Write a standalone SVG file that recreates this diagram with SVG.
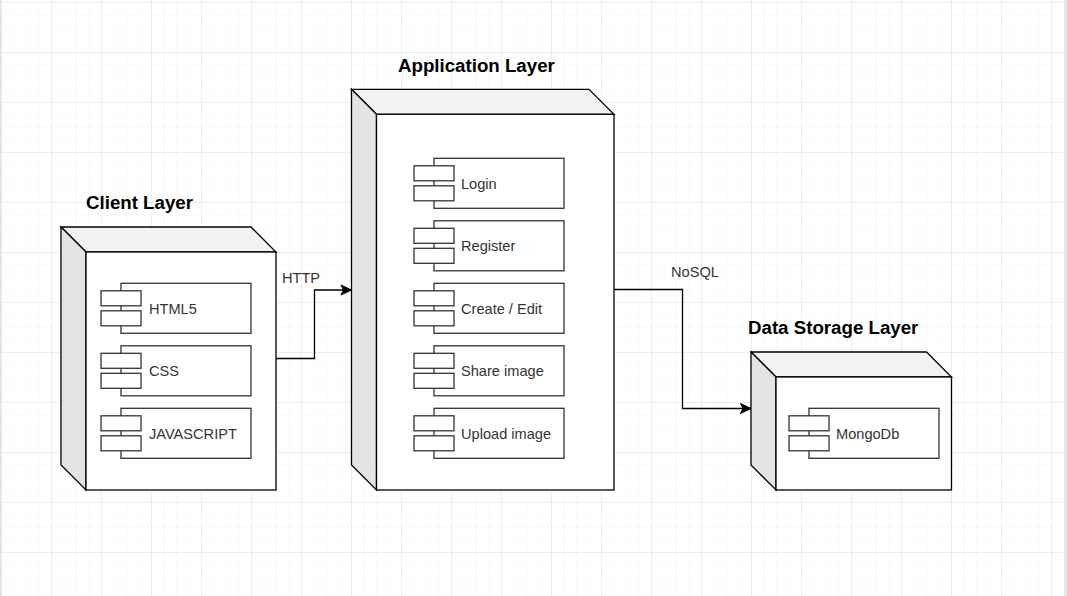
<svg xmlns="http://www.w3.org/2000/svg" width="1067" height="596" viewBox="0 0 1067 596">
  <style>
    .face{fill:#ffffff;stroke:#000000;stroke-width:1.3;stroke-linejoin:miter}
    .top{fill:#f2f2f2;stroke:#000000;stroke-width:1.3}
    .side{fill:#e4e4e4;stroke:#000000;stroke-width:1.3}
    .cbox{fill:#ffffff;stroke:#333333;stroke-width:1.3}
    .clabel{font-family:"Liberation Sans",Arial,Helvetica,sans-serif;font-size:14.6px;fill:#333333}
    .title{font-family:"Liberation Sans",Arial,Helvetica,sans-serif;font-size:18.7px;font-weight:bold;fill:#000000}
    .edge{fill:none;stroke:#000000;stroke-width:1.3}
    .elabel{font-family:"Liberation Sans",Arial,Helvetica,sans-serif;font-size:14.6px;fill:#333333}
  </style>
  <defs>
    <pattern id="minor" x="1" y="2" width="12.5" height="12.5" patternUnits="userSpaceOnUse">
      <path d="M0,0 H12.5 M0,0 V12.5" fill="none" stroke="#f3f3f3" stroke-width="1"/>
    </pattern>
    <pattern id="major" x="1" y="2" width="50" height="50" patternUnits="userSpaceOnUse">
      <path d="M0,0 H50 M0,0 V50" fill="none" stroke="#e2e2e2" stroke-width="1"/>
    </pattern>
    <marker id="arrow" markerUnits="userSpaceOnUse" markerWidth="14" markerHeight="12" refX="12" refY="6" orient="auto" viewBox="0 0 14 12">
      <path d="M12,6 L1.5,1 L4,6 L1.5,11 Z" fill="#000000" stroke="#000000" stroke-width="1"/>
    </marker>
  </defs>

  <rect x="0" y="0" width="1067" height="596" fill="#ffffff"/>
  <rect x="0" y="0" width="1063" height="596" fill="url(#minor)"/>
  <rect x="0" y="0" width="1063" height="596" fill="url(#major)"/>
  <rect x="0" y="0" width="1" height="596" fill="#e0e0e0"/>
  <rect x="1064" y="0" width="3" height="596" fill="#e6e6e6"/>

  <g id="connectors">
    <path class="edge" d="M276,358.5 H314.5 V290 H351.5" marker-end="url(#arrow)"/>
    <text class="elabel" x="282" y="283">HTTP</text>
    <path class="edge" d="M614,289.5 H682.5 V408.5 H751" marker-end="url(#arrow)"/>
    <text class="elabel" x="671" y="277">NoSQL</text>
  </g>

  <g id="client-layer">
    <text class="title" x="86" y="209">Client Layer</text>
    <polygon class="top" points="61,227 251,227 276,252 86,252"/>
    <polygon class="side" points="61,227 86,252 86,490 61,465"/>
    <rect class="face" x="86" y="252" width="190" height="238"/>
    <g id="html5">
      <rect class="cbox" x="121" y="283.3" width="130" height="50"/>
      <rect class="cbox" x="101" y="290.8" width="40" height="15"/>
      <rect class="cbox" x="101" y="310.8" width="40" height="15"/>
      <text class="clabel" x="149" y="313.5">HTML5</text>
    </g>
    <g id="css">
      <rect class="cbox" x="121" y="345.8" width="130" height="50"/>
      <rect class="cbox" x="101" y="353.3" width="40" height="15"/>
      <rect class="cbox" x="101" y="373.3" width="40" height="15"/>
      <text class="clabel" x="149" y="376">CSS</text>
    </g>
    <g id="javascript">
      <rect class="cbox" x="121" y="408.3" width="130" height="50"/>
      <rect class="cbox" x="101" y="415.8" width="40" height="15"/>
      <rect class="cbox" x="101" y="435.8" width="40" height="15"/>
      <text class="clabel" x="149" y="438.5">JAVASCRIPT</text>
    </g>
  </g>

  <g id="application-layer">
    <text class="title" x="398" y="72">Application Layer</text>
    <polygon class="top" points="351.5,89.3 589,89.3 614,114.3 376.5,114.3"/>
    <polygon class="side" points="351.5,89.3 376.5,114.3 376.5,490 351.5,465"/>
    <rect class="face" x="376.5" y="114.3" width="237.5" height="375.7"/>
    <g id="login">
      <rect class="cbox" x="434" y="158.3" width="130" height="50"/>
      <rect class="cbox" x="414" y="165.8" width="40" height="15"/>
      <rect class="cbox" x="414" y="185.8" width="40" height="15"/>
      <text class="clabel" x="461" y="188.5">Login</text>
    </g>
    <g id="register">
      <rect class="cbox" x="434" y="220.8" width="130" height="50"/>
      <rect class="cbox" x="414" y="228.3" width="40" height="15"/>
      <rect class="cbox" x="414" y="248.3" width="40" height="15"/>
      <text class="clabel" x="461" y="251">Register</text>
    </g>
    <g id="create-edit">
      <rect class="cbox" x="434" y="283.3" width="130" height="50"/>
      <rect class="cbox" x="414" y="290.8" width="40" height="15"/>
      <rect class="cbox" x="414" y="310.8" width="40" height="15"/>
      <text class="clabel" x="461" y="313.5">Create / Edit</text>
    </g>
    <g id="share-image">
      <rect class="cbox" x="434" y="345.8" width="130" height="50"/>
      <rect class="cbox" x="414" y="353.3" width="40" height="15"/>
      <rect class="cbox" x="414" y="373.3" width="40" height="15"/>
      <text class="clabel" x="461" y="376">Share image</text>
    </g>
    <g id="upload-image">
      <rect class="cbox" x="434" y="408.3" width="130" height="50"/>
      <rect class="cbox" x="414" y="415.8" width="40" height="15"/>
      <rect class="cbox" x="414" y="435.8" width="40" height="15"/>
      <text class="clabel" x="461" y="438.5">Upload image</text>
    </g>
  </g>

  <g id="data-storage-layer">
    <text class="title" x="748" y="334">Data Storage Layer</text>
    <polygon class="top" points="751,352 926.5,352 951.5,377 776,377"/>
    <polygon class="side" points="751,352 776,377 776,490 751,465"/>
    <rect class="face" x="776" y="377" width="175.5" height="113"/>
    <g id="mongodb">
      <rect class="cbox" x="809" y="408.3" width="130" height="50"/>
      <rect class="cbox" x="789" y="415.8" width="40" height="15"/>
      <rect class="cbox" x="789" y="435.8" width="40" height="15"/>
      <text class="clabel" x="836" y="438.5">MongoDb</text>
    </g>
  </g>
</svg>
